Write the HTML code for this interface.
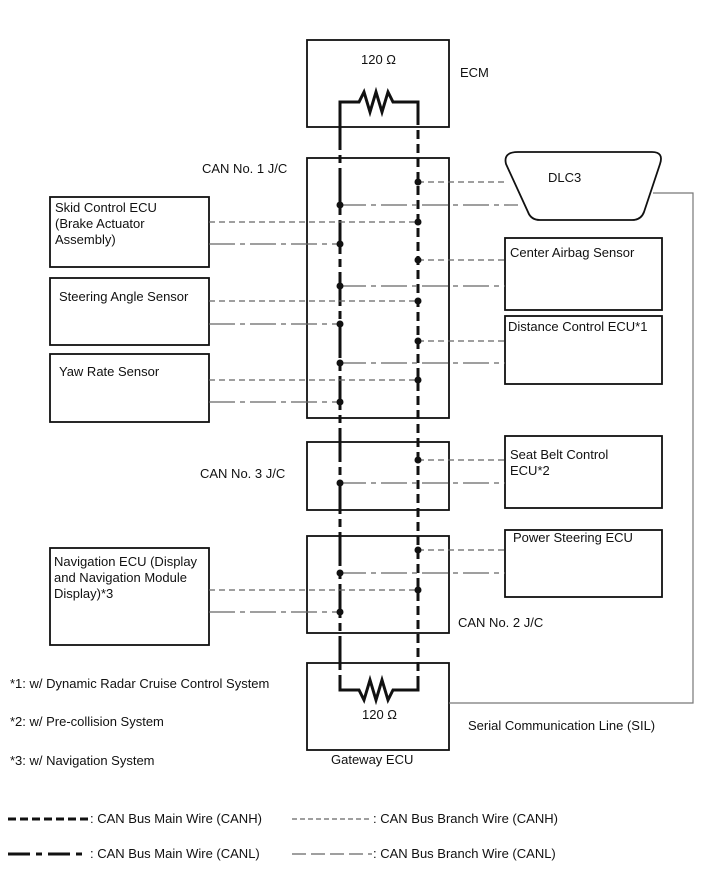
<!DOCTYPE html>
<html><head><style>
body{margin:0;background:#fff;width:713px;height:883px;overflow:hidden}
svg{display:block}
text{font-family:"Liberation Sans",sans-serif;font-size:13px;fill:#111}
</style></head><body>
<svg width="713" height="883" viewBox="0 0 713 883">
<g fill="none" stroke="#111" stroke-width="1.8">
<rect x="307" y="40" width="142" height="87"/>
<rect x="307" y="158" width="142" height="260"/>
<rect x="307" y="442" width="142" height="68"/>
<rect x="307" y="536" width="142" height="97"/>
<rect x="307" y="663" width="142" height="87"/>
<rect x="50" y="197" width="159" height="70"/>
<rect x="50" y="278" width="159" height="67"/>
<rect x="50" y="354" width="159" height="68"/>
<rect x="50" y="548" width="159" height="97"/>
<rect x="505" y="238" width="157" height="72"/>
<rect x="505" y="316" width="157" height="68"/>
<rect x="505" y="436" width="157" height="72"/>
<rect x="505" y="530" width="157" height="67"/>
<path d="M518,152 L652,152 Q664,152 660,164 L644,212 Q641,220 632,220 L540,220 Q531,220 528,212 L506,164 Q503,152 518,152 Z"/>
</g>
<path d="M653,193 H693 V703 H449" fill="none" stroke="#777" stroke-width="1.2"/>
<!-- resistors -->
<g fill="none" stroke="#111" stroke-width="3">
<path d="M340,116 V102 H359 L364,92 L370,112 L376,92 L382,112 L388,92 L393,102 H418 V116"/>
<path d="M340,676 V690 H359 L364,700 L370,680 L376,700 L382,680 L388,700 L393,690 H418 V676"/>
</g>
<!-- main wires -->
<path d="M340,116 V676" stroke="#111" stroke-width="3" stroke-dasharray="34,5,8,5"/>
<path d="M418,116 V676" stroke="#111" stroke-width="3" stroke-dasharray="9,5"/>
<!-- branches CANH -->
<g stroke="#666" stroke-width="1.2" stroke-dasharray="6,4" fill="none">
<path d="M418,182 H505"/><path d="M209,222 H418"/><path d="M418,260 H505"/><path d="M209,301 H418"/>
<path d="M418,341 H505"/><path d="M209,380 H418"/><path d="M418,460 H505"/><path d="M418,550 H505"/><path d="M209,590 H418"/>
</g>
<g stroke="#666" stroke-width="1.2" stroke-dasharray="26,5,5,5" fill="none">
<path d="M340,205 H518"/><path d="M209,244 H340"/><path d="M340,286 H505"/><path d="M209,324 H340"/>
<path d="M340,363 H505"/><path d="M209,402 H340"/><path d="M340,483 H505"/><path d="M340,573 H505"/><path d="M209,612 H340"/>
</g>
<g fill="#111">
<circle cx="418" cy="182" r="3.5"/><circle cx="340" cy="205" r="3.5"/><circle cx="418" cy="222" r="3.5"/><circle cx="340" cy="244" r="3.5"/>
<circle cx="418" cy="260" r="3.5"/><circle cx="340" cy="286" r="3.5"/><circle cx="418" cy="301" r="3.5"/><circle cx="340" cy="324" r="3.5"/>
<circle cx="418" cy="341" r="3.5"/><circle cx="340" cy="363" r="3.5"/><circle cx="418" cy="380" r="3.5"/><circle cx="340" cy="402" r="3.5"/>
<circle cx="418" cy="460" r="3.5"/><circle cx="340" cy="483" r="3.5"/><circle cx="418" cy="550" r="3.5"/><circle cx="340" cy="573" r="3.5"/>
<circle cx="418" cy="590" r="3.5"/><circle cx="340" cy="612" r="3.5"/>
</g>
<text x="361" y="64">120 Ω</text>
<text x="460" y="77">ECM</text>
<text x="202" y="173">CAN No. 1 J/C</text>
<text x="548" y="182">DLC3</text>
<text x="55" y="212">Skid Control ECU</text>
<text x="55" y="228">(Brake Actuator</text>
<text x="55" y="244">Assembly)</text>
<text x="510" y="257">Center Airbag Sensor</text>
<text x="59" y="301">Steering Angle Sensor</text>
<text x="508" y="331">Distance Control ECU*1</text>
<text x="59" y="376">Yaw Rate Sensor</text>
<text x="200" y="478">CAN No. 3 J/C</text>
<text x="510" y="459">Seat Belt Control</text>
<text x="510" y="475">ECU*2</text>
<text x="513" y="542">Power Steering ECU</text>
<text x="54" y="566">Navigation ECU (Display</text>
<text x="54" y="582">and Navigation Module</text>
<text x="54" y="598">Display)*3</text>
<text x="458" y="627">CAN No. 2 J/C</text>
<text x="10" y="688">*1: w/ Dynamic Radar Cruise Control System</text>
<text x="10" y="726">*2: w/ Pre-collision System</text>
<text x="10" y="765">*3: w/ Navigation System</text>
<text x="362" y="719">120 Ω</text>
<text x="468" y="730">Serial Communication Line (SIL)</text>
<text x="331" y="764">Gateway ECU</text>
<path d="M8,819 H88" stroke="#111" stroke-width="3" stroke-dasharray="8,4"/>
<text x="90" y="823">: CAN Bus Main Wire (CANH)</text>
<path d="M292,819 H372" stroke="#666" stroke-width="1.2" stroke-dasharray="5,3"/>
<text x="373" y="823">: CAN Bus Branch Wire (CANH)</text>
<path d="M8,854 H88" stroke="#111" stroke-width="3" stroke-dasharray="22,6,6,6"/>
<text x="90" y="858">: CAN Bus Main Wire (CANL)</text>
<path d="M292,854 H372" stroke="#666" stroke-width="1.2" stroke-dasharray="14,5"/>
<text x="373" y="858">: CAN Bus Branch Wire (CANL)</text>
</svg>
</body></html>
